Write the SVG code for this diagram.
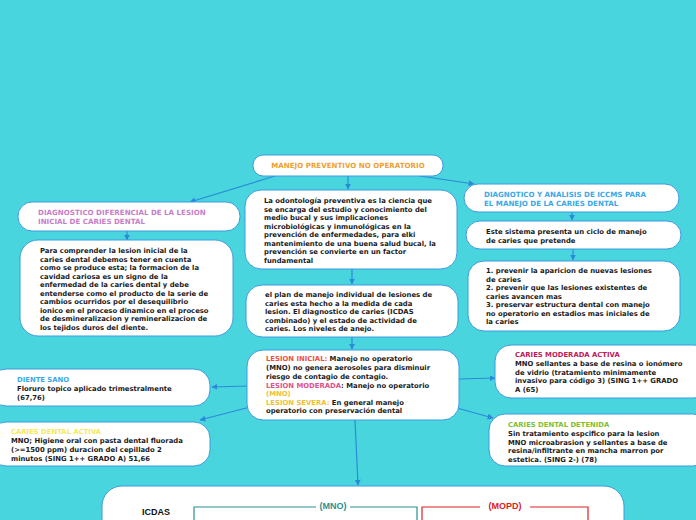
<svg xmlns="http://www.w3.org/2000/svg" width="696" height="520" viewBox="0 0 696 520">
<defs>
<marker id="ah" viewBox="0 0 10 10" refX="9" refY="5" markerWidth="6" markerHeight="6" orient="auto" markerUnits="userSpaceOnUse">
<path d="M0,0 L10,5 L0,10 z" fill="#2a8ad8"/>
</marker>
<style>
.n{fill:#fff;stroke:#3a9be0;stroke-width:1}
.t{font-family:"DejaVu Sans",Verdana,sans-serif;font-weight:bold;font-size:6.85px;fill:#1a1a1a}
.h{font-family:"DejaVu Sans",Verdana,sans-serif;font-weight:bold;font-size:7.1px}
.h2{font-family:"DejaVu Sans",Verdana,sans-serif;font-weight:bold;font-size:6.85px}
.c{fill:none;stroke:#2a8ad8;stroke-width:1.2;marker-end:url(#ah)}
</style>
</defs>
<rect width="696" height="520" fill="#48d5dd"/>
<g id="connectors">
<path class="c" d="M275,176 L190,202"/>
<path class="c" d="M348,176 L348,189"/>
<path class="c" d="M420,176 L474,184"/>
<path class="c" d="M127,231 L127,240"/>
<path class="c" d="M352,269 L352,284"/>
<path class="c" d="M352,337 L352,349"/>
<path class="c" d="M572,212 L572,220"/>
<path class="c" d="M573,249 L573,260"/>
<path class="c" d="M247,386 L212,387"/>
<path class="c" d="M250,407 L200,420"/>
<path class="c" d="M459,379 L495,378"/>
<path class="c" d="M457,408 L493,418"/>
<path class="c" d="M355,420 L358,485"/>
</g>
<g id="n-manejo">
<rect class="n" x="253" y="155" width="190" height="21" rx="10"/>
<text class="h" x="348" y="168" text-anchor="middle" fill="#f0a030">MANEJO PREVENTIVO NO OPERATORIO</text>
</g>
<g id="n-diagdif">
<rect class="n" x="18" y="202" width="222" height="29" rx="14"/>
<text class="h" fill="#c77dc9"><tspan x="38" y="215">DIAGNOSTICO DIFERENCIAL DE LA LESION</tspan><tspan x="38" y="224">INICIAL DE CARIES DENTAL</tspan></text>
</g>
<g id="n-comprender">
<rect class="n" x="20" y="240" width="213" height="96" rx="18"/>
<text class="t"><tspan x="40" y="253">Para comprender la lesion inicial de la</tspan><tspan x="40" y="261.5">caries dental debemos tener en cuenta</tspan><tspan x="40" y="270">como se produce esta; la formacion de la</tspan><tspan x="40" y="278.5">cavidad cariosa es un signo de la</tspan><tspan x="40" y="287">enfermedad de la caries dental y debe</tspan><tspan x="40" y="295.5">entenderse como el producto de la serie de</tspan><tspan x="40" y="304">cambios ocurridos por el desequilibrio</tspan><tspan x="40" y="312.5">ionico en el proceso dinamico en el proceso</tspan><tspan x="40" y="321">de desmineralizacion y remineralizacion de</tspan><tspan x="40" y="329.5">los tejidos duros del diente.</tspan></text>
</g>
<g id="n-odontologia">
<rect class="n" x="245" y="190" width="212" height="79" rx="16"/>
<text class="t"><tspan x="264" y="203">La odontología preventiva es la ciencia que</tspan><tspan x="264" y="211.5">se encarga del estudio y conocimiento del</tspan><tspan x="264" y="220">medio bucal y sus implicaciones</tspan><tspan x="264" y="228.5">microbiológicas y inmunológicas  en la</tspan><tspan x="264" y="237">prevención de enfermedades, para elki</tspan><tspan x="264" y="245.5">mantenimiento de una buena salud bucal, la</tspan><tspan x="264" y="254">prevención se convierte en un factor</tspan><tspan x="264" y="262.5">fundamental</tspan></text>
</g>
<g id="n-plan">
<rect class="n" x="246" y="285" width="212" height="52" rx="16"/>
<text class="t"><tspan x="265" y="297">el plan de manejo individual de lesiones de</tspan><tspan x="265" y="305.5">caries esta hecho a la medida de cada</tspan><tspan x="265" y="314">lesion. El diagnostico de caries (ICDAS</tspan><tspan x="265" y="322.5">combinado) y el estado de actividad de</tspan><tspan x="265" y="331">caries. Los niveles de anejo.</tspan></text>
</g>
<g id="n-lesion">
<rect class="n" x="247" y="350" width="212" height="70" rx="16"/>
<text class="t"><tspan x="266" y="361"><tspan fill="#f05040">LESION INICIAL: </tspan>Manejo no operatorio</tspan><tspan x="266" y="370">(MNO) no genera aerosoles para disminuir</tspan><tspan x="266" y="378.5">riesgo de contagio de contagio.</tspan><tspan x="266" y="387.5"><tspan fill="#e0508a">LESION MODERADA</tspan>: Manejo no operatorio</tspan><tspan x="266" y="396" fill="#f0c030">(MNO)</tspan><tspan x="266" y="404.5"><tspan fill="#f0c030">LESION SEVERA: </tspan>En general manejo</tspan><tspan x="266" y="413">operatorio con preservación dental</tspan></text>
</g>
<g id="n-iccms">
<rect class="n" x="464" y="184" width="215" height="28" rx="14"/>
<text class="h" fill="#3aa8e8"><tspan x="484" y="197">DIAGNOTICO Y ANALISIS DE ICCMS PARA</tspan><tspan x="484" y="206">EL MANEJO DE LA CARIES DENTAL</tspan></text>
</g>
<g id="n-sistema">
<rect class="n" x="466" y="221" width="215" height="28" rx="14"/>
<text class="t"><tspan x="486" y="234">Este sistema presenta un ciclo de manejo</tspan><tspan x="486" y="243">de caries que pretende</tspan></text>
</g>
<g id="n-lista">
<rect class="n" x="468" y="261" width="212" height="70" rx="16"/>
<text class="t"><tspan x="486" y="273">1. prevenir la aparicion de nuevas lesiones</tspan><tspan x="486" y="281.5">de caries</tspan><tspan x="486" y="290">2. prevenir que las lesiones existentes de</tspan><tspan x="486" y="298.5">caries avancen mas</tspan><tspan x="486" y="307">3. preservar estructura dental con manejo</tspan><tspan x="486" y="315.5">no operatorio en estadios mas iniciales de</tspan><tspan x="486" y="324">la caries</tspan></text>
</g>
<g id="n-sano">
<rect class="n" x="-10" y="369" width="220" height="37" rx="16"/>
<text class="h2"><tspan x="17" y="382" fill="#3aa8e8">DIENTE SANO</tspan><tspan x="17" y="391" fill="#1a1a1a">Floruro topico aplicado trimestralmente</tspan><tspan x="17" y="400" fill="#1a1a1a">(67,76)</tspan></text>
</g>
<g id="n-activa">
<rect class="n" x="-10" y="422" width="220" height="44" rx="16"/>
<text class="h2"><tspan x="11" y="434" fill="#f6e85a">CARIES DENTAL ACTIVA</tspan><tspan x="11" y="443" fill="#1a1a1a">MNO; Higiene oral con pasta dental fluorada</tspan><tspan x="11" y="452" fill="#1a1a1a">(&gt;=1500 ppm) duracion del cepillado 2</tspan><tspan x="11" y="461" fill="#1a1a1a">minutos (SING 1++ GRADO A) 51,66</tspan></text>
</g>
<g id="n-moderada">
<rect class="n" x="495" y="345" width="215" height="53" rx="16"/>
<text class="h2"><tspan x="515" y="357" fill="#c0185a">CARIES MODERADA ACTIVA</tspan><tspan x="515" y="366" fill="#1a1a1a">MNO sellantes a base de resina o ionómero</tspan><tspan x="515" y="374.5" fill="#1a1a1a">de vidrio (tratamiento minimamente</tspan><tspan x="515" y="383" fill="#1a1a1a">invasivo para código 3) (SING 1++ GRADO</tspan><tspan x="515" y="391.5" fill="#1a1a1a">A (65)</tspan></text>
</g>
<g id="n-detenida">
<rect class="n" x="489" y="414" width="220" height="52" rx="16"/>
<text class="h2"><tspan x="508" y="427" fill="#80c030">CARIES DENTAL DETENIDA</tspan><tspan x="508" y="436" fill="#1a1a1a">Sin tratamiento espcifico para la lesion</tspan><tspan x="508" y="444.5" fill="#1a1a1a">MNO microabrasion y sellantes a base de</tspan><tspan x="508" y="453" fill="#1a1a1a">resina/infiltrante en mancha marron por</tspan><tspan x="508" y="461.5" fill="#1a1a1a">estetica. (SING 2-) (78)</tspan></text>
</g>
<g id="n-icdas">
<rect class="n" x="102" y="486" width="522" height="60" rx="20"/>
<text x="142" y="515" font-family="'Liberation Sans',Arial,sans-serif" font-weight="bold" font-size="9" fill="#111">ICDAS</text>
<path d="M194,522 L194,507 L316,507 M350,507 L417,507 L417,522" fill="none" stroke="#2a9090" stroke-width="1.2"/>
<text x="333" y="509" text-anchor="middle" font-family="'Liberation Sans',Arial,sans-serif" font-weight="bold" font-size="9" fill="#2a9090">(MNO)</text>
<path d="M422,522 L422,507 L480,507 M530,507 L588,507 L588,522" fill="none" stroke="#e02020" stroke-width="1.2"/>
<text x="505" y="509" text-anchor="middle" font-family="'Liberation Sans',Arial,sans-serif" font-weight="bold" font-size="9" fill="#e02020">(MOPD)</text>
</g>
</svg>
